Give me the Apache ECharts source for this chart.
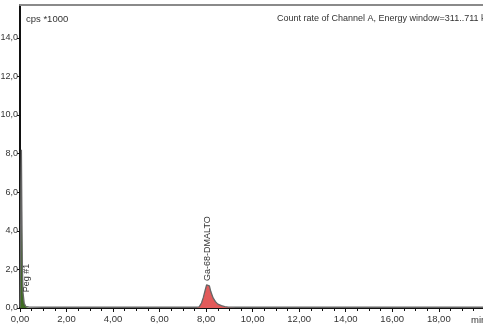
<!DOCTYPE html>
<html>
<head>
<meta charset="utf-8">
<script src="https://cdn.jsdelivr.net/npm/echarts@6/dist/echarts.min.js"></script>
<style>html,body{margin:0;padding:0;background:#fff}#c{width:483px;height:326px}</style>
</head>
<body>
<div id="c"></div>
<script>
// Chromatogram trace (minutes, cps*1000)
const traceTime = [0, 0.02, 0.04, 0.06, 0.08, 0.1, 0.13, 0.18, 0.25, 0.4, 1, 2, 4, 6, 7, 7.6, 7.7, 7.8, 7.88, 7.95, 8.02, 8.08, 8.14, 8.2, 8.3, 8.4, 8.5, 8.66, 8.8, 8.95, 9.3, 10, 12, 14, 16, 18, 19.9];
const traceCps  = [0.04, 2.5, 6.5, 8.2, 5.0, 2.2, 0.8, 0.25, 0.08, 0.05, 0.04, 0.04, 0.04, 0.04, 0.04, 0.04, 0.06, 0.26, 0.55, 0.88, 1.2, 1.3, 1.15, 0.85, 0.52, 0.33, 0.2, 0.12, 0.07, 0.05, 0.04, 0.04, 0.04, 0.04, 0.04, 0.04, 0.04];
// Peaks: name, start, end, label anchor
const peakNames = ['Peg #1', 'Ga-68-DMALTO'];
const peakStart = [0, 7.6];
const peakEnd   = [0.4, 9.3];
const peakColors = ['#3f6b22', '#e25a5a'];
const labelTime = [0.26, 8.08];
const labelCps  = [1.55, 1.3];
// Axis ticks
const xMin = 0, xMax = 19.9, xStep = 2;
const yMin = 0, yMax = 15.7, yStep = 2;

const font = 'Liberation Sans';
const fmtX = v => (Math.abs(v % xStep) < 1e-6) ? v.toFixed(2).replace('.', ',') : '';
const fmtY = v => (Math.abs(v % yStep) < 1e-6) ? v.toFixed(1).replace('.', ',') : '';

const trace = traceTime.map((t, i) => [t, traceCps[i]]);
const peakSeries = peakNames.map((n, k) => ({
  type: 'line',
  name: n,
  data: trace.filter(p => p[0] >= peakStart[k] && p[0] <= peakEnd[k]),
  symbol: 'none',
  lineStyle: { width: 0 },
  areaStyle: { color: peakColors[k], opacity: 1 },
  z: 2,
  silent: true,
  markPoint: {
    symbol: 'circle', symbolSize: 0,
    data: [{ coord: [labelTime[k], labelCps[k]] }],
    label: {
      show: true, formatter: n, rotate: 90,
      position: k === 0 ? 'inside' : 'top',
      align: k === 0 ? 'center' : 'left',
      verticalAlign: 'middle',
      distance: 2,
      fontFamily: font, fontSize: 9, color: '#333'
    }
  }
}));

const chart = echarts.init(document.getElementById('c'), null, { renderer: 'canvas' });
chart.setOption({
  animation: false,
  backgroundColor: '#fff',
  title: [
    { text: 'cps *1000', left: 21, top: 9, textStyle: { fontFamily: font, fontSize: 9.5, fontWeight: 'normal', color: '#333' } },
    { text: 'Count rate of Channel A, Energy window=311..711 keV', left: 272, top: 9, textStyle: { fontFamily: font, fontSize: 9, fontWeight: 'normal', color: '#333' } }
  ],
  grid: { left: 20, right: 0, top: 5, bottom: 18, containLabel: false, outerBoundsMode: 'none' },
  xAxis: [{
    type: 'value', min: xMin, max: xMax, interval: xStep,
    name: 'min', nameLocation: 'end', nameGap: -12,
    nameTextStyle: { fontFamily: font, fontSize: 9.5, color: '#333', align: 'left', verticalAlign: 'top', padding: [7, 0, 0, 0] },
    axisLine: { lineStyle: { color: '#111', width: 1 } },
    axisTick: { show: true, length: 4, lineStyle: { color: '#111' } },
    minorTick: { show: true, splitNumber: 4, length: 3, lineStyle: { color: '#111' } },
    axisLabel: { formatter: fmtX, margin: 6, fontFamily: font, fontSize: 9.5, color: '#333', showMaxLabel: false },
    splitLine: { show: false }
  }, {
    type: 'value', position: 'top', min: xMin, max: xMax,
    axisLine: { show: true, onZero: false, lineStyle: { color: '#8a8a8a', width: 2 } },
    axisTick: { show: false }, axisLabel: { show: false }, splitLine: { show: false }
  }],
  yAxis: {
    type: 'value', min: yMin, max: yMax, interval: yStep,
    axisLine: { show: true, lineStyle: { color: '#111', width: 2 } },
    axisTick: { show: true, length: 3, lineStyle: { color: '#111' } },
    axisLabel: { formatter: fmtY, margin: 2, fontFamily: font, fontSize: 9, color: '#333', showMaxLabel: false },
    splitLine: { show: false }
  },
  series: [
    ...peakSeries,
    {
      type: 'line', name: 'trace', data: trace, symbol: 'none',
      lineStyle: { color: '#666', width: 1.3 }, z: 3, silent: true
    }
  ]
});
</script>
</body>
</html>
